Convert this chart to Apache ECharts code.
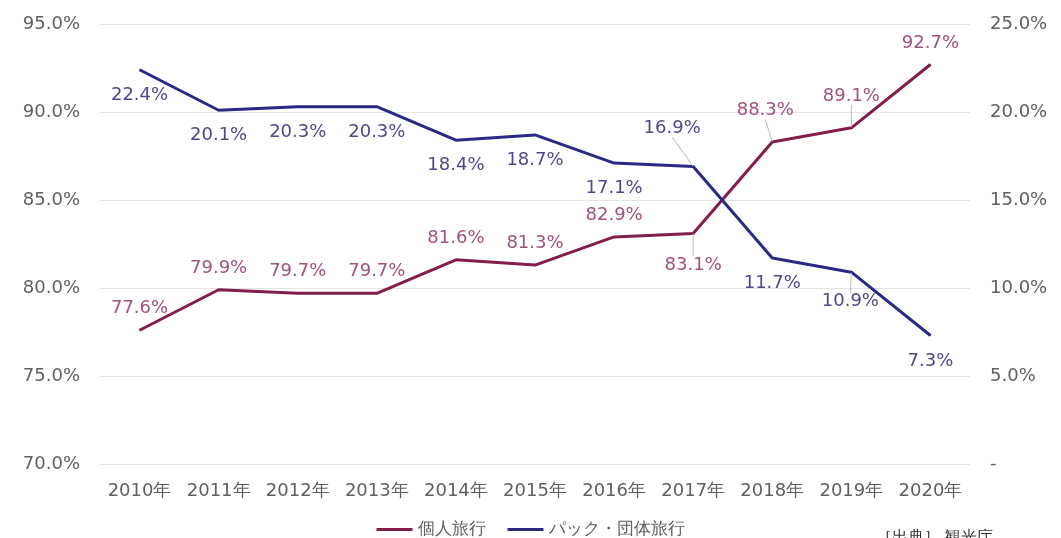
<!DOCTYPE html>
<html>
<head>
<meta charset="utf-8">
<script src="https://cdn.jsdelivr.net/npm/echarts@6/dist/echarts.min.js"></script>
<style>
  html, body { margin: 0; padding: 0; background: #fff; }
  #main { width: 1061px; height: 538px; }
</style>
</head>
<body>
<div id="main"></div>
<script>
'use strict';

var years = ['2010年', '2011年', '2012年', '2013年', '2014年', '2015年',
  '2016年', '2017年', '2018年', '2019年', '2020年'];
var kojin = [77.6, 79.9, 79.7, 79.7, 81.6, 81.3, 82.9, 83.1, 88.3, 89.1, 92.7];
var pack = [22.4, 20.1, 20.3, 20.3, 18.4, 18.7, 17.1, 16.9, 11.7, 10.9, 7.3];
var leftTicks = [70, 75, 80, 85, 90, 95];
var rightTicks = [0, 5, 10, 15, 20, 25];

var FONT = 'DejaVu Sans';
var AXIS_GREY = '#606060';

// label tweaks per point: [position, dx, dy, leader line]
var kojinLabels = {
  7: ['bottom', 0, 10, true],
  8: ['top', -7, -10, true],
  9: ['top', 0, -10, true]
};
var packLabels = {
  7: ['top', -21, -13, true],
  9: ['bottom', -1, 4, true]
};

function pct(v) { return v.toFixed(1) + '%'; }

function buildData(values, defPos, tweaks) {
  return values.map(function(v, i) {
    var t = tweaks[i];
    var item = { value: v, label: { position: t ? t[0] : defPos } };
    if (t && t[3]) item.labelLine = { show: true };
    return item;
  });
}

function layoutFor(tweaks) {
  return function(params) {
    var t = tweaks[params.dataIndex];
    if (!t) return {};
    return { dx: t[1], dy: t[2] };
  };
}

var chart = echarts.init(document.getElementById('main'));

chart.setOption({
  animation: false,
  textStyle: { fontFamily: FONT },
  grid: { left: 100, right: 91, top: 24, bottom: 74, containLabel: false },
  legend: {
    top: 516,
    left: 'center',
    itemWidth: 36,
    itemHeight: 3,
    itemGap: 22,
    icon: 'rect',
    textStyle: { color: AXIS_GREY, fontSize: 17, fontFamily: FONT },
    data: ['個人旅行', 'パック・団体旅行']
  },
  xAxis: {
    type: 'category',
    data: years,
    boundaryGap: true,
    axisLine: { show: false },
    axisTick: { show: false },
    axisLabel: { color: AXIS_GREY, fontSize: 18, margin: 18, interval: 0 }
  },
  yAxis: [{
    type: 'value',
    min: leftTicks[0],
    max: leftTicks[leftTicks.length - 1],
    interval: 5,
    axisLabel: { color: AXIS_GREY, fontSize: 18, margin: 20, formatter: pct },
    splitLine: { lineStyle: { color: '#e4e4e4', width: 1 } },
    axisLine: { show: false },
    axisTick: { show: false }
  }, {
    type: 'value',
    min: rightTicks[0],
    max: rightTicks[rightTicks.length - 1],
    interval: 5,
    axisLabel: {
      color: AXIS_GREY, fontSize: 18, margin: 20,
      formatter: function(v) { return v === 0 ? '-' : pct(v); }
    },
    splitLine: { show: false },
    axisLine: { show: false },
    axisTick: { show: false }
  }],
  series: [{
    name: '個人旅行',
    type: 'line',
    yAxisIndex: 0,
    data: buildData(kojin, 'top', kojinLabels),
    symbol: 'circle',
    symbolSize: 1,
    showSymbol: true,
    lineStyle: { color: '#831d4c', width: 3 },
    itemStyle: { color: '#831d4c' },
    label: {
      show: true, distance: 12, color: '#a0527e', fontSize: 18,
      formatter: function(p) { return pct(p.value); }
    },
    labelLine: { show: false, lineStyle: { color: '#bbb', width: 1 } },
    labelLayout: layoutFor(kojinLabels)
  }, {
    name: 'パック・団体旅行',
    type: 'line',
    yAxisIndex: 1,
    data: buildData(pack, 'bottom', packLabels),
    symbol: 'circle',
    symbolSize: 1,
    showSymbol: true,
    lineStyle: { color: '#2a2a85', width: 3 },
    itemStyle: { color: '#2a2a85' },
    label: {
      show: true, distance: 16, color: '#4a4a8c', fontSize: 18,
      formatter: function(p) { return pct(p.value); }
    },
    labelLine: { show: false, lineStyle: { color: '#bbb', width: 1 } },
    labelLayout: layoutFor(packLabels)
  }],
  graphic: [{
    type: 'text',
    left: 876,
    top: 530,
    style: { text: '［出典］ 観光庁', fontSize: 16, fill: '#333', fontFamily: FONT }
  }]
});
</script>
</body>
</html>
